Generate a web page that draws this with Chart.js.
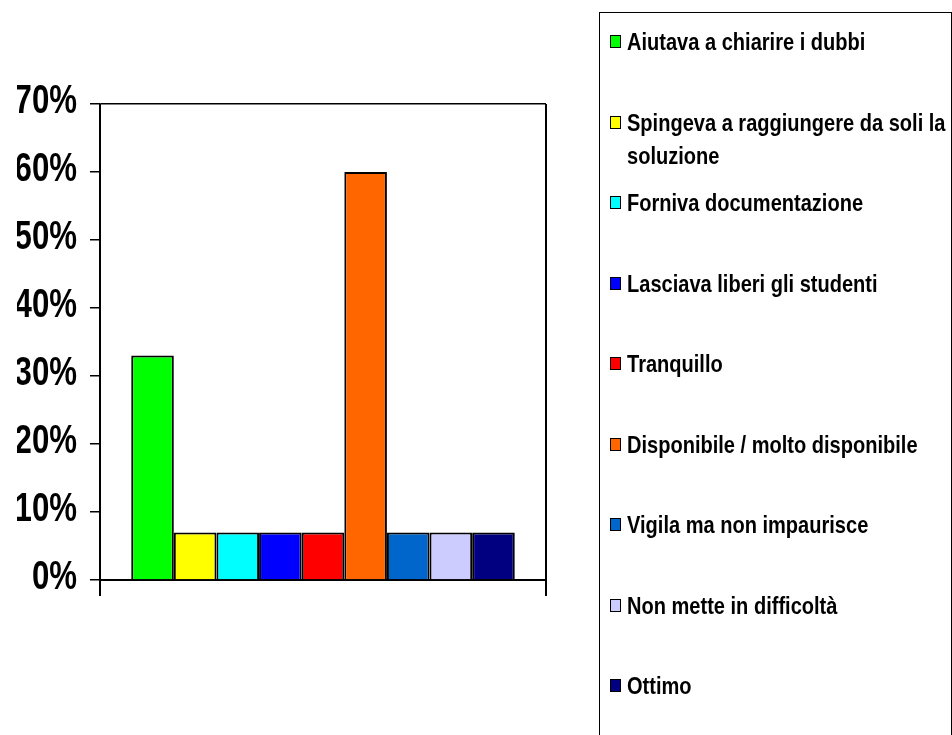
<!DOCTYPE html>
<html lang="it">

<head>
    <meta charset="UTF-8">
    <title>Il docente durante il laboratorio</title>
    <style>
        body { margin: 0; background: #fff; }
        .contenitore { position: relative; width: 952px; height: 735px; overflow: hidden; }
        #myChart { position: absolute; left: 0; top: 0; }
        .chart-legend {
            position: absolute; left: 599px; top: 12px; width: 353px; height: 760px;
            border: 1.5px solid #000; box-sizing: border-box;
            font-family: 'Liberation Sans', Arial, sans-serif;
            font-weight: bold; font-size: 24px; color: #000;
        }
        .legend-item { position: relative; height: 80.5px; box-sizing: border-box; padding: 12px 0 0 27px; line-height: 33px; }
        .legend-color {
            position: absolute; left: 10px; top: 22px; width: 9px; height: 11px;
            border: 1.5px solid #000;
        }
        .legend-text {
            display: inline-block; width: 390px;
            transform: scaleX(0.835); transform-origin: left top;
        }
    </style>
</head>

<body>
    <div class="contenitore">
        <canvas id="myChart" width="952" height="735"></canvas>
        <div class="chart-legend" id="div_legenda"></div>
    </div>

    <script src="https://cdn.jsdelivr.net/npm/chart.js"></script>
    <script>
        // voci della legenda (una serie per voce)
        var voci = [
            'Aiutava a chiarire i dubbi',
            'Spingeva a raggiungere da soli la soluzione',
            'Forniva documentazione',
            'Lasciava liberi gli studenti',
            'Tranquillo',
            'Disponibile / molto disponibile',
            'Vigila ma non impaurisce',
            'Non mette in difficoltà',
            'Ottimo'
        ];
        // percentuali
        var percentuali = [33, 7, 7, 7, 7, 60, 7, 7, 7];
        var colori = ['#00ff00', '#ffff00', '#00ffff', '#0000ff', '#ff0000', '#ff6600', '#0066cc', '#ccccff', '#000080'];
        var tickY = [0, 10, 20, 30, 40, 50, 60, 70];

        var datasets = [];
        for (var i = 0; i < voci.length; i++) {
            datasets.push({
                label: voci[i],
                data: [percentuali[i]],
                backgroundColor: colori[i],
                borderColor: '#000',
                borderWidth: 2,
                barPercentage: 1,
                categoryPercentage: 0.86
            });
        }

        // etichette dell'asse y più strette (carattere "narrow")
        var etichetteStrette = {
            id: 'etichetteStrette',
            afterUpdate: function (chart) {
                var s = chart.scales.y;
                if (s._stretto) return;
                var orig = s.drawLabels.bind(s);
                s.drawLabels = function (area) {
                    var c = chart.ctx;
                    var xr = s.right - 10 - 13;
                    c.save();
                    c.translate(xr, 0);
                    c.scale(0.78, 1);
                    c.translate(-xr, 0);
                    orig(area);
                    c.restore();
                };
                s._stretto = true;
            }
        };

        var ctx = document.getElementById('myChart').getContext('2d');
        new Chart(ctx, {
            type: 'bar',
            data: { labels: [''], datasets: datasets },
            plugins: [etichetteStrette],
            options: {
                responsive: false,
                animation: false,
                layout: { padding: { left: 0, right: 406, top: 104, bottom: 0 } },
                scales: {
                    x: {
                        grid: { color: '#000', lineWidth: 2, tickLength: 16 },
                        border: { color: '#000', width: 2 },
                        ticks: { display: false },
                        afterFit: function (scale) { scale.height = 155; }
                    },
                    y: {
                        min: tickY[0],
                        max: tickY[tickY.length - 1],
                        afterBuildTicks: function (scale) {
                            scale.ticks = tickY.map(function (v) { return { value: v }; });
                        },
                        grid: {
                            drawOnChartArea: true,
                            color: function (c) { return c.tick && c.tick.value === 70 ? '#000' : 'rgba(0,0,0,0)'; },
                            tickColor: '#000',
                            tickLength: 10,
                            lineWidth: 1.5
                        },
                        border: { color: '#000', width: 1.5 },
                        ticks: {
                            padding: 13,
                            labelOffset: -2,
                            color: '#000',
                            font: { family: "'Liberation Sans', Arial, sans-serif", size: 40, weight: 'bold' },
                            callback: function (v) { return v + '%'; }
                        },
                        afterFit: function (scale) { scale.width = 100; }
                    }
                },
                plugins: {
                    legend: { display: false },
                    tooltip: { enabled: false }
                }
            }
        });

        // legenda in HTML
        var chartLegend = document.getElementById('div_legenda');
        for (var i = 0; i < voci.length; i++) {
            var legendItem = document.createElement('div');
            legendItem.classList.add('legend-item');
            var legendColor = document.createElement('span');
            legendColor.classList.add('legend-color');
            legendColor.style.backgroundColor = colori[i];
            var legendText = document.createElement('span');
            legendText.classList.add('legend-text');
            legendText.textContent = voci[i];
            legendItem.appendChild(legendColor);
            legendItem.appendChild(legendText);
            chartLegend.appendChild(legendItem);
        }
    </script>
</body>

</html>
